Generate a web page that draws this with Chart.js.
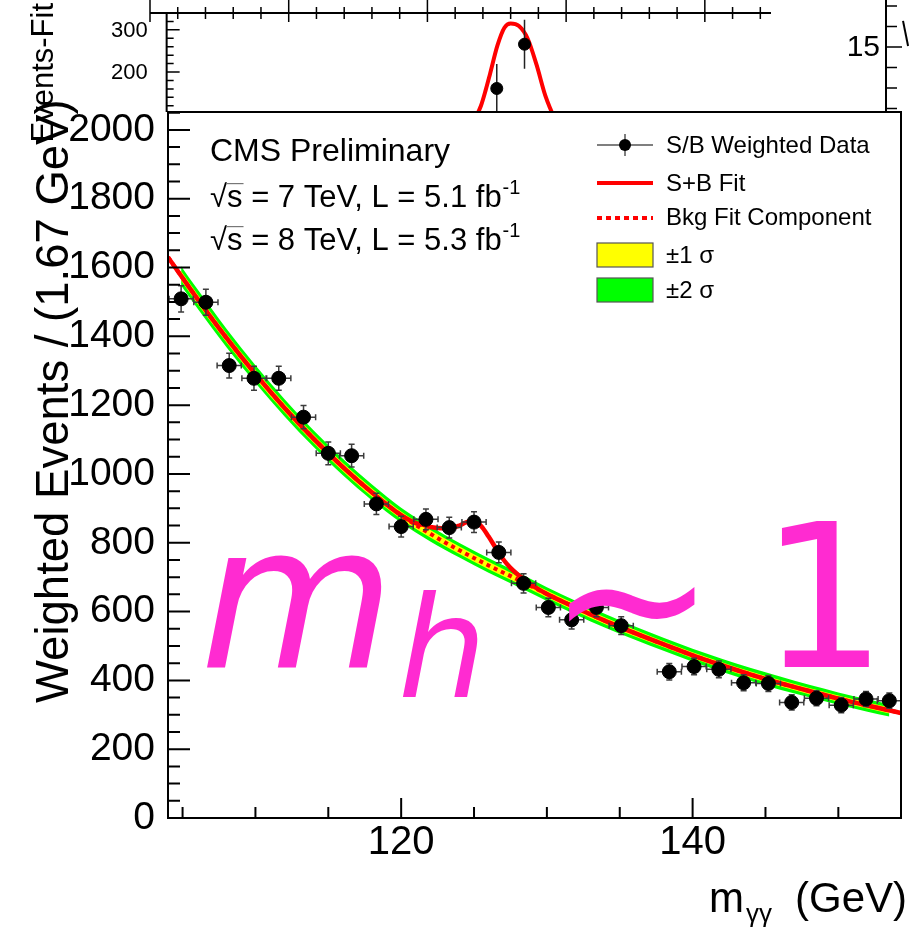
<!DOCTYPE html>
<html>
<head>
<meta charset="utf-8">
<title>Weighted m_gg</title>
<script src="https://cdn.jsdelivr.net/npm/chart.js@4.4.1/dist/chart.umd.min.js"></script>
<style>
  html, body { margin: 0; padding: 0; background: #fff; }
  #wrap { position: relative; width: 909px; height: 928px; overflow: hidden; }
  canvas { position: absolute; left: 0; top: 0; }
</style>
</head>
<body>
<div id="wrap">
  <canvas id="topPanel" width="909" height="160"></canvas>
  <canvas id="sidePanel" width="909" height="112"></canvas>
  <canvas id="mainPanel" width="909" height="928"></canvas>
</div>
<script>
// data
const massX = [104.9, 106.6, 108.2, 109.9, 111.6, 113.3, 115.0, 116.6, 118.3, 120.0, 121.7, 123.3, 125.0, 126.7, 128.4, 130.1, 131.7, 133.4, 135.1, 138.4, 140.1, 141.8, 143.5, 145.2, 146.8, 148.5, 150.2, 151.9, 153.5];
const weightedEvents = [1509, 1499, 1315, 1278, 1278, 1165, 1060, 1053, 913, 847, 868, 844, 860, 772, 682, 612, 576, 612, 559, 425, 440, 432, 393, 391, 336, 348, 328, 346, 341];
const eventErrors = [38, 38, 36, 35, 35, 34, 33, 33, 31, 30, 30, 30, 30, 30, 28, 27, 27, 27, 26, 24, 24, 24, 23, 23, 22, 22, 22, 22, 22];
const binHalfWidth = 0.83;

const sbFitX = [104, 106, 108, 110, 112, 114, 116, 118, 120, 121, 121.5, 122, 122.5, 123, 123.5, 124, 124.5, 125, 125.5, 126, 126.5, 127, 127.5, 128, 128.5, 129, 129.5, 130, 132, 134, 136, 138, 140, 142, 144, 146, 148, 150, 152, 154, 154.3];
const sbFitY = [1630, 1510, 1396, 1290, 1192, 1102, 1020, 946, 880, 857, 852, 846, 843, 842, 843, 850, 860, 863, 848, 818, 784, 752, 727, 708, 692, 676, 663, 651, 611, 573, 538, 505, 473, 444, 417, 392, 369, 347, 327, 308, 305];

const bkgFitX = [104, 106, 108, 110, 112, 114, 116, 118, 120, 122, 124, 126, 128, 130, 132, 134, 136, 138, 140, 142, 144, 146, 148, 150, 152, 154, 154.3];
const bkgFitY = [1630, 1510, 1396, 1290, 1192, 1102, 1020, 946, 880, 826, 778, 734, 693, 651, 611, 573, 538, 505, 473, 444, 417, 392, 369, 347, 327, 308, 305];

const bandX = [104.9, 106, 108, 110, 112, 114, 116, 118, 120, 122, 124, 126, 128, 130, 132, 134, 136, 138, 140, 142, 144, 146, 148, 150, 152, 153.5];
const bandMid = [1576, 1510, 1396, 1290, 1192, 1102, 1020, 946, 880, 826, 778, 734, 693, 651, 611, 573, 538, 505, 473, 444, 417, 392, 369, 347, 327, 313];
const sigma1 = [14, 14, 13, 13, 13, 12, 12, 12, 11, 11, 11, 11, 10, 10, 10, 10, 10, 9, 9, 9, 9, 9, 9, 9, 9, 9];
const sigma2 = [28, 28, 27, 26, 25, 24, 24, 23, 22, 22, 21, 21, 21, 20, 20, 20, 19, 19, 19, 19, 19, 19, 18, 18, 18, 18];

// axis ticks of the main frame
const xTickLabels = [120, 140];
const yTickLabels = [0, 200, 400, 600, 800, 1000, 1200, 1400, 1600, 1800, 2000];
const xMinorStep = 5;
const yMinorStep = 50;

// upper panel (Events-Fit)
const residualX = [125.0, 127.0];
const residualY = [161, 266];
const residualErr = [58, 58];
const peakX = [123.3, 123.86, 124.2, 124.51, 125.05, 125.55, 126.0, 126.6, 127.23, 127.86, 128.5, 128.9, 129.3];
const peakY = [80, 120, 157, 195, 263, 305, 315, 309, 279, 218, 144, 110, 80];
const topYLabels = [200, 300];
const topYMinorStep = 20;
const topXMinorStep = 2;

// piece of the neighbouring panel on the right
const sideX = [0.74, 0.96];
const sideY = [16.27, 15.05];
const sideYLabels = [15];

const FONT = '"Liberation Sans", Arial, Helvetica, sans-serif';

function pts(xs, ys) {
    return xs.map((v, i) => ({ x: v, y: ys[i] }));
}

function stepTicks(from, to, step) {
    const out = [];
    for (let v = from; v <= to + 1e-9; v += step) out.push(Math.round(v * 1000) / 1000);
    return out;
}

const errorBars = {
    id: 'errorBars',
    beforeDatasetDraw(chart, args) {
        const ds = chart.data.datasets[args.index];
        if (!ds.errY) return;
        const { ctx, chartArea: a, scales: { x, y } } = chart;
        ctx.save();
        ctx.beginPath();
        ctx.rect(a.left, a.top, a.right - a.left, a.bottom - a.top);
        ctx.clip();
        ctx.strokeStyle = ds.errColor || '#3c3c3c';
        ctx.lineWidth = 1.5;
        ctx.beginPath();
        const cap = ds.capSize || 0;
        ds.data.forEach((p, i) => {
            const px = x.getPixelForValue(p.x);
            const py = y.getPixelForValue(p.y);
            const t = y.getPixelForValue(p.y + ds.errY[i]);
            const b = y.getPixelForValue(p.y - ds.errY[i]);
            ctx.moveTo(px, t); ctx.lineTo(px, b);
            if (cap) {
                ctx.moveTo(px - cap, t); ctx.lineTo(px + cap, t);
                ctx.moveTo(px - cap, b); ctx.lineTo(px + cap, b);
            }
            if (ds.errX) {
                const l = x.getPixelForValue(p.x - ds.errX);
                const r = x.getPixelForValue(p.x + ds.errX);
                ctx.moveTo(l, py); ctx.lineTo(r, py);
                if (cap) {
                    ctx.moveTo(l, py - cap); ctx.lineTo(l, py + cap);
                    ctx.moveTo(r, py - cap); ctx.lineTo(r, py + cap);
                }
            }
        });
        ctx.stroke();
        ctx.restore();
    }
};

function lumiLine(ctx, x, y, energy, lumi) {
    ctx.font = '31px ' + FONT;
    ctx.fillStyle = '#000';
    ctx.fillText('√', x, y);
    let cx = x + ctx.measureText('√').width;
    const sw = ctx.measureText('s').width;
    ctx.fillText('s', cx, y);
    ctx.fillStyle = '#777';
    ctx.fillRect(cx - 1, y - 24, sw + 2, 1.2);
    ctx.fillStyle = '#000';
    cx += sw;
    const body = ' = ' + energy + ' TeV, L = ' + lumi + ' fb';
    ctx.fillText(body, cx, y);
    cx += ctx.measureText(body).width;
    ctx.font = '20px ' + FONT;
    ctx.fillText('-1', cx + 1, y - 13);
}

const mainDecor = {
    id: 'mainDecor',
    beforeDraw(chart) {
        const { ctx, chartArea: a } = chart;
        ctx.save();
        ctx.fillStyle = '#fff';
        ctx.fillRect(a.left, a.top, a.right - a.left, a.bottom - a.top);
        ctx.restore();
    },
    afterDatasetsDraw(chart) {
        const { ctx, chartArea: a, scales: { x, y } } = chart;
        const ds = chart.data.datasets;
        ctx.save();
        // frame + inward ticks
        ctx.strokeStyle = '#000';
        ctx.lineWidth = 2;
        ctx.strokeRect(a.left, a.top, a.right - a.left, a.bottom - a.top);
        ctx.beginPath();
        x.ticks.forEach(t => {
            const px = x.getPixelForValue(t.value);
            const len = xTickLabels.includes(t.value) ? 20 : 11;
            ctx.moveTo(px, a.bottom); ctx.lineTo(px, a.bottom - len);
        });
        y.ticks.forEach(t => {
            const py = y.getPixelForValue(t.value);
            const len = yTickLabels.includes(t.value) ? 22 : 12;
            ctx.moveTo(a.left, py); ctx.lineTo(a.left + len, py);
        });
        ctx.stroke();

        // text block
        ctx.fillStyle = '#000';
        ctx.textBaseline = 'alphabetic';
        ctx.textAlign = 'left';
        ctx.font = '32px ' + FONT;
        ctx.fillText('CMS Preliminary', 210, 161);
        lumiLine(ctx, 210, 207, 7, '5.1');
        lumiLine(ctx, 210, 250, 8, '5.3');

        // legend
        const lx0 = 597, lx1 = 653, tx = 666;
        ctx.font = '24px ' + FONT;
        ctx.textBaseline = 'middle';
        ctx.strokeStyle = '#555';
        ctx.lineWidth = 1.5;
        ctx.beginPath();
        ctx.moveTo(lx0, 145); ctx.lineTo(lx1, 145);
        ctx.moveTo(625, 134); ctx.lineTo(625, 156);
        ctx.stroke();
        ctx.fillStyle = ds[0].pointBackgroundColor;
        ctx.beginPath();
        ctx.arc(625, 145, 6, 0, Math.PI * 2);
        ctx.fill();
        ctx.strokeStyle = ds[1].borderColor;
        ctx.lineWidth = 4;
        ctx.beginPath();
        ctx.moveTo(lx0, 183); ctx.lineTo(lx1, 183);
        ctx.stroke();
        ctx.setLineDash([5, 4]);
        ctx.beginPath();
        ctx.moveTo(lx0, 218); ctx.lineTo(lx1, 218);
        ctx.stroke();
        ctx.setLineDash([]);
        ctx.lineWidth = 1.2;
        ctx.strokeStyle = '#555';
        ctx.fillStyle = ds[3].backgroundColor;
        ctx.fillRect(lx0, 243, lx1 - lx0, 24);
        ctx.strokeRect(lx0, 243, lx1 - lx0, 24);
        ctx.fillStyle = ds[5].backgroundColor;
        ctx.fillRect(lx0, 278, lx1 - lx0, 24);
        ctx.strokeRect(lx0, 278, lx1 - lx0, 24);
        ctx.fillStyle = '#000';
        ctx.fillText(ds[0].label, tx, 146);
        ctx.fillText(ds[1].label, tx, 184);
        ctx.fillText(ds[2].label, tx, 218);
        ctx.fillText('±1 σ', tx, 256);
        ctx.fillText('±2 σ', tx, 291);

        // axis titles
        ctx.textBaseline = 'alphabetic';
        ctx.font = '45.5px ' + FONT;
        ctx.save();
        ctx.translate(68, 703);
        ctx.rotate(-Math.PI / 2);
        ctx.fillText('Weighted Events / (1.67 GeV)', 0, 0);
        ctx.restore();
        let cx = 709;
        ctx.font = '42px ' + FONT;
        ctx.fillText('m', cx, 912);
        cx += ctx.measureText('m').width + 2;
        ctx.font = '26px ' + FONT;
        ctx.fillText('γγ', cx, 922);
        ctx.font = '42px ' + FONT;
        ctx.textAlign = 'right';
        ctx.fillText('(GeV)', 907, 912);
        ctx.restore();
    },
    afterDraw(chart) {
        const { ctx, chartArea: a } = chart;
        ctx.save();
        ctx.beginPath();
        ctx.rect(a.left, a.top, a.right - a.left, a.bottom - a.top);
        ctx.clip();
        ctx.fillStyle = '#ff2bd1';
        ctx.textBaseline = 'alphabetic';
        ctx.textAlign = 'left';
        ctx.font = 'italic 200px "DejaVu Sans"';
        ctx.fillText('m', 200, 667);
        ctx.font = 'italic 140px "DejaVu Sans"';
        ctx.fillText('h', 398, 697);
        ctx.font = '200px "DejaVu Sans"';
        ctx.fillText('∼', 548, 667);
        ctx.fillText('125', 760, 667);
        ctx.restore();
    }
};

const topDecor = {
    id: 'topDecor',
    afterDatasetsDraw(chart) {
        const { ctx, chartArea: a, scales: { x, y } } = chart;
        const axisX = x.getPixelForValue(101.2);
        const cutY = 112;
        ctx.save();
        ctx.strokeStyle = '#000';
        ctx.lineWidth = 2;
        ctx.beginPath();
        ctx.moveTo(a.left, a.top); ctx.lineTo(a.right, a.top);
        ctx.moveTo(axisX, a.top); ctx.lineTo(axisX, cutY);
        ctx.stroke();
        ctx.lineWidth = 1.5;
        ctx.beginPath();
        stepTicks(x.min, x.max, topXMinorStep).forEach(v => {
            const px = x.getPixelForValue(v);
            if (v % 10 === 0) {
                ctx.moveTo(px, 0); ctx.lineTo(px, a.top + 9);
            } else {
                ctx.moveTo(px, a.top - 6); ctx.lineTo(px, a.top + 6);
            }
        });
        ctx.fillStyle = '#000';
        ctx.font = '22px ' + FONT;
        ctx.textAlign = 'right';
        ctx.textBaseline = 'middle';
        stepTicks(120, 320, topYMinorStep).forEach(v => {
            const py = y.getPixelForValue(v);
            if (py < a.top + 3 || py > cutY) return;
            const major = topYLabels.includes(v);
            ctx.moveTo(axisX, py); ctx.lineTo(axisX + (major ? 13 : 7), py);
            if (major) ctx.fillText(String(v), axisX - 19, py + 1);
        });
        ctx.stroke();
        ctx.font = '31px ' + FONT;
        ctx.textBaseline = 'alphabetic';
        ctx.translate(53, 3);
        ctx.rotate(-Math.PI / 2);
        ctx.fillText('Events-Fit', 0, 0);
        ctx.restore();
    }
};

const sideDecor = {
    id: 'sideDecor',
    afterDatasetsDraw(chart) {
        const { ctx, chartArea: a, scales: { y } } = chart;
        ctx.save();
        ctx.strokeStyle = '#000';
        ctx.lineWidth = 2;
        ctx.beginPath();
        ctx.moveTo(a.left, 0); ctx.lineTo(a.left, a.bottom);
        ctx.stroke();
        ctx.lineWidth = 1.5;
        ctx.beginPath();
        ctx.fillStyle = '#000';
        ctx.font = '30px ' + FONT;
        ctx.textAlign = 'right';
        ctx.textBaseline = 'middle';
        stepTicks(12, 17, 1).forEach(v => {
            const py = y.getPixelForValue(v);
            const major = sideYLabels.includes(v);
            ctx.moveTo(a.left, py); ctx.lineTo(a.left + (major ? 16 : 11), py);
            if (major) ctx.fillText(String(v), a.left - 6, py + 1);
        });
        ctx.stroke();
        ctx.restore();
    }
};

const hiddenScale = (min, max) => ({ type: 'linear', display: false, min: min, max: max });

new Chart(document.getElementById('topPanel'), {
    type: 'line',
    data: {
        datasets: [
            { label: 'data', data: pts(residualX, residualY), showLine: false, pointRadius: 6,
              pointBackgroundColor: '#000', pointBorderColor: '#000', errY: residualErr, errColor: '#222' },
            { label: 'signal', data: pts(peakX, peakY), borderColor: '#ff0000', borderWidth: 4,
              pointRadius: 0, cubicInterpolationMode: 'monotone' }
        ]
    },
    options: {
        responsive: false, animation: false,
        layout: { padding: { left: 150, right: 138, top: 13, bottom: 0 } },
        plugins: { legend: { display: false }, tooltip: { enabled: false } },
        scales: { x: hiddenScale(100, 144.77), y: hiddenScale(8, 340) }
    },
    plugins: [errorBars, topDecor]
});

new Chart(document.getElementById('sidePanel'), {
    type: 'line',
    data: {
        datasets: [
            { label: 'side', data: pts(sideX, sideY), borderColor: '#000', borderWidth: 2, pointRadius: 0 }
        ]
    },
    options: {
        responsive: false, animation: false,
        layout: { padding: { left: 886, right: 0, top: 0, bottom: 0 } },
        plugins: { legend: { display: false }, tooltip: { enabled: false } },
        scales: { x: hiddenScale(0, 1), y: hiddenScale(11.83, 17.29) }
    },
    plugins: [sideDecor]
});

const upper1 = bandX.map((m, i) => ({ x: m, y: bandMid[i] + sigma1[i] }));
const lower1 = bandX.map((m, i) => ({ x: m, y: bandMid[i] - sigma1[i] }));
const upper2 = bandX.map((m, i) => ({ x: m, y: bandMid[i] + sigma2[i] }));
const lower2 = bandX.map((m, i) => ({ x: m, y: bandMid[i] - sigma2[i] }));

const bandStyle = { borderWidth: 0, borderColor: 'transparent', pointRadius: 0, cubicInterpolationMode: 'monotone' };

new Chart(document.getElementById('mainPanel'), {
    type: 'line',
    data: {
        datasets: [
            { label: 'S/B Weighted Data', data: pts(massX, weightedEvents), showLine: false, pointRadius: 7,
              pointBackgroundColor: '#000', pointBorderColor: '#000', errY: eventErrors, errX: binHalfWidth, capSize: 3 },
            { label: 'S+B Fit', data: pts(sbFitX, sbFitY), borderColor: '#ff0000', borderWidth: 4.5,
              pointRadius: 0, cubicInterpolationMode: 'monotone', fill: false },
            { label: 'Bkg Fit Component', data: pts(bkgFitX, bkgFitY), borderColor: '#ff0000', borderWidth: 4,
              borderDash: [4, 4], pointRadius: 0, cubicInterpolationMode: 'monotone', fill: false },
            Object.assign({ label: '±1 σ', data: upper1, backgroundColor: '#ffff00', fill: '+1' }, bandStyle),
            Object.assign({ label: '-1 σ', data: lower1, fill: false }, bandStyle),
            Object.assign({ label: '±2 σ', data: upper2, backgroundColor: '#00ff00', fill: '+1' }, bandStyle),
            Object.assign({ label: '-2 σ', data: lower2, fill: false }, bandStyle)
        ]
    },
    options: {
        responsive: false, animation: false,
        layout: { padding: { left: 0, right: 2, top: 112, bottom: 0 } },
        plugins: { legend: { display: false }, tooltip: { enabled: false } },
        scales: {
            x: {
                type: 'linear', min: 104, max: 154.3,
                grid: { display: false, drawTicks: false }, border: { display: false },
                afterBuildTicks: s => { s.ticks = stepTicks(105, 150, xMinorStep).map(v => ({ value: v })); },
                ticks: { autoSkip: false, maxRotation: 0, padding: 1, color: '#000',
                         font: { family: FONT, size: 40 },
                         callback: v => (xTickLabels.includes(v) ? String(v) : '') },
                afterFit: s => { s.height = 110; }
            },
            y: {
                type: 'linear', min: 0, max: 2052,
                grid: { display: false, drawTicks: false }, border: { display: false },
                afterBuildTicks: s => { s.ticks = stepTicks(0, 2050, yMinorStep).map(v => ({ value: v })); },
                ticks: { autoSkip: false, padding: 13, color: '#000',
                         font: { family: FONT, size: 39 },
                         callback: v => (yTickLabels.includes(v) ? String(v) : '') },
                afterFit: s => { s.width = 168; }
            }
        }
    },
    plugins: [errorBars, mainDecor]
});
</script>
</body>
</html>
